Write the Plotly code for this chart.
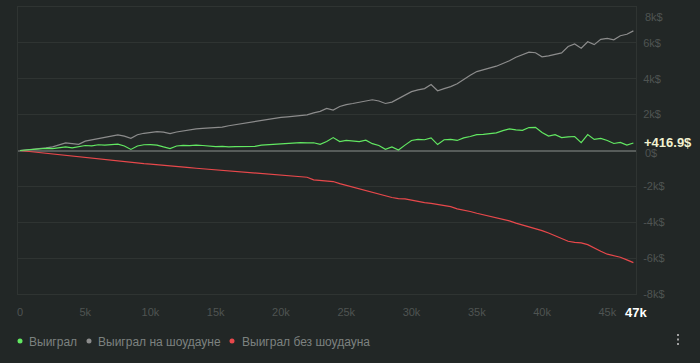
import plotly.graph_objects as go

# Hands axis (every 500 hands, 0 .. 47k)
hands = list(range(0, 47001, 500))

won_total = [
    0, 30, 60, 80, 120, 100, 160, 200, 150, 220,
    280, 260, 320, 300, 340, 350, 250, 60, 250, 320,
    330, 300, 200, 110, 250, 290, 270, 300, 280, 240,
    220, 230, 200, 220, 220, 210, 230, 300, 330, 350,
    360, 380, 420, 440, 420, 430, 340, 500, 720, 500,
    560, 520, 500, 580, 380, 280, 70, 200, 30, 300,
    560, 620, 600, 700, 330, 600, 620, 560, 700, 780,
    880, 900, 960, 980, 1110, 1200, 1150, 1120, 1280, 1290,
    1000, 800, 880, 720, 760, 780, 440, 890, 620, 670,
    560, 390, 450, 300, 416.9,
]

won_showdown = [
    0, 30, 70, 110, 150, 200, 300, 420, 380, 340,
    520, 600, 650, 720, 800, 870, 800, 680, 880, 960,
    1000, 1050, 1020, 940, 1030, 1100, 1150, 1210, 1230, 1260,
    1280, 1300, 1380, 1440, 1500, 1560, 1640, 1710, 1760, 1800,
    1850, 1880, 1930, 1960, 1990, 2100, 2180, 2350, 2250, 2450,
    2560, 2620, 2690, 2740, 2830, 2760, 2620, 2700, 2900, 3100,
    3280, 3380, 3450, 3680, 3330, 3450, 3560, 3720, 3980, 4200,
    4400, 4500, 4600, 4700, 4850, 5000, 5200, 5350, 5480, 5450,
    5220, 5280, 5350, 5440, 5800, 5940, 5700, 6060, 5900, 6200,
    6250, 6170, 6400, 6480, 6670,
]

won_no_showdown = [
    0, -40, -80, -110, -150, -190, -220, -260, -300, -330,
    -370, -410, -450, -500, -550, -600, -640, -660, -700, -730,
    -760, -800, -830, -860, -890, -920, -960, -990, -1020, -1050,
    -1090, -1130, -1170, -1200, -1230, -1260, -1290, -1310, -1330, -1360,
    -1390, -1410, -1440, -1460, -1490, -1640, -1680, -1690, -1730, -1850,
    -1950, -2050, -2150, -2250, -2350, -2450, -2560, -2620, -2680, -2700,
    -2770, -2850, -2910, -2950, -3000, -3070, -3130, -3250, -3310, -3400,
    -3500, -3580, -3640, -3720, -3820, -3920, -4050, -4150, -4250, -4350,
    -4470, -4600, -4750, -4900, -5060, -5120, -5150, -5250, -5450, -5620,
    -5780, -5870, -5950, -6100, -6250,
]

series_names = ["Выиграл", "Выиграл на шоудауне", "Выиграл без шоудауна"]
series_colors = ["#62e862", "#8c8c8c", "#e8484b"]

x_tickvals = [0, 5000, 10000, 15000, 20000, 25000, 30000, 35000, 40000, 45000]
x_ticktext = ["0", "5k", "10k", "15k", "20k", "25k", "30k", "35k", "40k", "45k"]
y_tickvals = [8000, 6000, 4000, 2000, 0, -2000, -4000, -6000, -8000]
y_ticktext = ["", "6k$", "4k$", "2k$", "", "-2k$", "-4k$", "-6k$", "-8k$"]
final_label = "+416.9$"
last_hand_label = "47k"

BG = "#222726"
GRID = "#2f3432"
TICK = "#4f5452"

fig = go.Figure()
for name, ys, col in zip(series_names, [won_showdown, won_no_showdown, won_total],
                         [series_colors[1], series_colors[2], series_colors[0]]):
    fig.add_trace(go.Scatter(x=hands, y=ys, mode="lines", name=name,
                             line=dict(color=col, width=1.2),
                             showlegend=False, hoverinfo="skip"))

fig.update_layout(
    width=700, height=363,
    margin=dict(l=18, r=64, t=7, b=69),
    paper_bgcolor=BG, plot_bgcolor=BG,
    font=dict(family="Liberation Sans, Arial, sans-serif", size=11, color=TICK),
    showlegend=False,
)
fig.update_xaxes(
    range=[-150, 47200], tickvals=x_tickvals, ticktext=x_ticktext,
    showgrid=False, zeroline=False, showline=True, linecolor=GRID, mirror=True,
    ticks="outside", ticklen=8, tickcolor="rgba(0,0,0,0)",
    tickfont=dict(size=11, color=TICK),
)
fig.update_yaxes(
    range=[-8000, 8000], side="right", tickvals=y_tickvals, ticktext=y_ticktext,
    showgrid=True, gridcolor=GRID, gridwidth=1,
    zeroline=True, zerolinecolor="#575c5a", zerolinewidth=2,
    showline=True, linecolor=GRID, mirror=True,
    ticks="outside", ticklen=4, tickcolor="rgba(0,0,0,0)",
    tickfont=dict(size=11, color=TICK),
)

plot_h = 363 - 7 - 69
plot_w = 700 - 18 - 64

def py(pix):
    return (363 - 69 - pix) / plot_h

def px(pix):
    return (pix - 18) / plot_w

# top y label shifted inside; 0$ label sits just under the final value label
fig.add_annotation(text="8k$", xref="paper", yref="paper", x=px(643), y=py(17),
                   xanchor="left", yanchor="middle", showarrow=False,
                   font=dict(size=11, color=TICK))
fig.add_annotation(text="0$", xref="paper", yref="paper", x=px(643), y=py(153),
                   xanchor="left", yanchor="middle", showarrow=False,
                   font=dict(size=11, color=TICK))
fig.add_annotation(text="<b>" + final_label + "</b>", xref="paper", yref="paper",
                   x=px(642), y=py(142), xanchor="left", yanchor="middle",
                   showarrow=False, font=dict(size=13, color="#f2f2d0"))
fig.add_annotation(text="<b>" + last_hand_label + "</b>", xref="paper", yref="paper",
                   x=px(636), y=py(313), xanchor="center", yanchor="middle",
                   showarrow=False, font=dict(size=13, color="#ffffff"))

# legend
legend_pos = [(20, 27), (89, 96), (232, 240)]
for (dx, tx), name, col in zip(legend_pos, series_names, series_colors):
    fig.add_shape(type="circle", xref="paper", yref="paper",
                  xsizemode="pixel", ysizemode="pixel",
                  xanchor=px(dx), yanchor=py(341),
                  x0=-2.5, x1=2.5, y0=-2.5, y1=2.5,
                  fillcolor=col, line=dict(width=0))
    fig.add_annotation(text=name, xref="paper", yref="paper", x=px(tx), y=py(341.5),
                       xanchor="left", yanchor="middle", showarrow=False,
                       font=dict(size=12, color="#7d8280"))

# kebab menu dots
for yy in [335, 339.5, 344]:
    fig.add_shape(type="rect", xref="paper", yref="paper",
                  xsizemode="pixel", ysizemode="pixel",
                  xanchor=px(678), yanchor=py(yy),
                  x0=-1, x1=1, y0=-1, y1=1,
                  fillcolor="#a0a0a0", line=dict(width=0))

fig.write_html("out.html", config={"displayModeBar": False},
               post_script="document.body.style.margin='0';document.body.style.background='#222726';")
